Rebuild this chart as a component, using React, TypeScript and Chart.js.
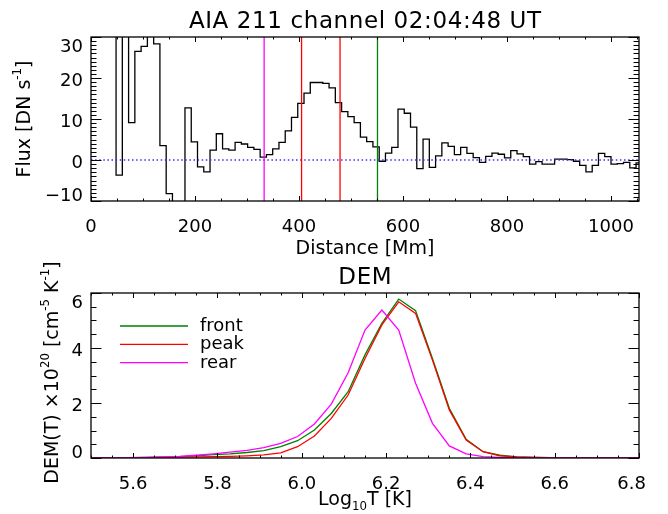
import React, { useEffect, useRef } from 'react';
import { Chart, registerables } from 'chart.js';

Chart.register(...registerables);

const FONT = '"DejaVu Sans", sans-serif';

// ---------------- Top panel data ----------------
const TOP_TITLE = 'AIA 211 channel 02:04:48 UT';
const DIST_MIN = 0;
const DIST_MAX = 1054;
const FLUX_MIN = -10;
const FLUX_MAX = 30;
const BIN_START = 0; // Mm, left edge of first bin
const BIN_WIDTH = 12.05; // Mm
const FLUX = [
  40, 42, 38, 45, -3.7, 35, 9.1, 26.5, 27.7, 33,
  28.3, 3.5, -8.2, -15, -13, 12.7, 4.4, -1.7, -2.9, 2.4,
  6.4, 2.7, 2.4, 4.3, 3.9, 3.1, 2.6, 0.7, 1.3, 2.7,
  4.3, 7.1, 10.4, 13.8, 16.3, 18.9, 18.9, 18.7, 17.6, 14.0,
  11.8, 10.6, 9.1, 5.6, 4.5, 3.2, -0.3, 1.7, 3.1, 12.4,
  11.4, 8.0, -2.1, 5.1, -1.8, 1.0, 4.2, 3.3, 1.3, 3.1,
  1.6, 0.6, -0.6, 0.9, 1.7, 1.4, 0.5, 2.3, 1.5, 0.8,
  -1.0, -0.4, -1.0, -1.0, 0.2, 0.2, 0.1, -0.3, -1.3, -2.9,
  -1.3, 1.6, 0.8, -1.0, -0.9, -0.6, -1.9, -0.7,
];
const MARKERS = [333, 405, 479, 551];
const MARKER_COLORS = ['#ff00ff', '#ff0000', '#ff0000', '#008000'];
const DIST_TICKS = [0, 200, 400, 600, 800, 1000];
const FLUX_TICKS = [-10, 0, 10, 20, 30];

// ---------------- Bottom panel data ----------------
const DEM_TITLE = 'DEM';
const LOGT_MIN = 5.5;
const LOGT_MAX = 6.8;
const DEMY_MIN = 0;
const DEMY_MAX = 6;
const LOGT = [
  5.47, 5.51, 5.55, 5.59, 5.63, 5.67, 5.71, 5.75, 5.79, 5.83,
  5.87, 5.91, 5.95, 5.99, 6.03, 6.07, 6.11, 6.15, 6.19, 6.23,
  6.27, 6.31, 6.35, 6.39, 6.43, 6.47, 6.51, 6.55, 6.59, 6.63,
  6.67, 6.71, 6.75, 6.79, 6.83,
];
const DEM_FRONT = [
  0, 0, 0.005, 0.01, 0.02, 0.03, 0.05, 0.08, 0.12, 0.15,
  0.2, 0.27, 0.41, 0.63, 1.02, 1.62, 2.41, 3.75, 4.9, 5.78,
  5.36, 3.62, 1.81, 0.68, 0.23, 0.1, 0.04, 0.02, 0.01, 0,
  0, 0, 0, 0, 0,
];
const DEM_PEAK = [
  0, 0, 0, 0.005, 0.01, 0.02, 0.03, 0.04, 0.05, 0.06,
  0.08, 0.11, 0.19, 0.41, 0.8, 1.44, 2.29, 3.62, 4.84, 5.68,
  5.26, 3.56, 1.75, 0.65, 0.23, 0.08, 0.04, 0.02, 0.01, 0,
  0, 0, 0, 0, 0,
];
const DEM_REAR = [
  0, 0, 0.005, 0.01, 0.02, 0.04, 0.06, 0.1, 0.15, 0.21,
  0.28, 0.38, 0.53, 0.78, 1.24, 1.96, 3.1, 4.65, 5.38, 4.65,
  2.72, 1.26, 0.44, 0.15, 0.05, 0.02, 0.01, 0, 0, 0,
  0, 0, 0, 0, 0,
];
const DEM_LABELS = ['front', 'peak', 'rear'];
const DEM_COLORS = ['#008000', '#ff0000', '#ff00ff'];
const LOGT_TICKS = [5.6, 5.8, 6.0, 6.2, 6.4, 6.6, 6.8];
const DEM_TICKS = [0, 2, 4, 6];

// ---------------- helpers ----------------
type Seg = { t: string; s?: 'sup' | 'sub' };

function drawRich(
  ctx: CanvasRenderingContext2D,
  segs: Seg[],
  x: number,
  y: number,
  size: number,
  rot = 0,
  spacing = 0
) {
  ctx.save();
  ctx.translate(x, y);
  ctx.rotate(rot);
  (ctx as any).letterSpacing = `${spacing}px`;
  const small = size * 0.62;
  const fN = `${size}px ${FONT}`;
  const fS = `${small}px ${FONT}`;
  let total = 0;
  const widths = segs.map((sg) => {
    ctx.font = sg.s ? fS : fN;
    const w = ctx.measureText(sg.t).width;
    total += w;
    return w;
  });
  total -= spacing;
  let cx = -total / 2;
  ctx.textAlign = 'left';
  ctx.textBaseline = 'alphabetic';
  ctx.fillStyle = '#000';
  segs.forEach((sg, i) => {
    ctx.font = sg.s ? fS : fN;
    const dy = sg.s === 'sup' ? -size * 0.45 : sg.s === 'sub' ? size * 0.28 : 0;
    ctx.fillText(sg.t, cx, dy + size * 0.36);
    cx += widths[i];
  });
  ctx.restore();
}

interface DecorCfg {
  id: string;
  title: Seg[];
  titleY: number;
  titleSize: number;
  titleSpacing: number;
  xTitle: Seg[];
  xTitleDy: number;
  yTitle: Seg[];
  yTitleX: number;
  yTitleDy: number;
  xMinor: number;
  yMinor: number;
  fmtX: (v: number) => string;
  fmtY: (v: number) => string;
  legend?: { labels: string[]; colors: string[] };
}

const TICK_FONT = 18;
const AXT_FONT = 19;

function decorPlugin(cfg: DecorCfg) {
  return {
    id: cfg.id,
    afterDraw(chart: any) {
      const ctx: CanvasRenderingContext2D = chart.ctx;
      const a = chart.chartArea;
      const xs = chart.scales.x;
      const ys = chart.scales.y;
      ctx.save();
      ctx.strokeStyle = '#000';
      ctx.lineWidth = 1.3;
      ctx.strokeRect(a.left, a.top, a.right - a.left, a.bottom - a.top);

      const xMaj = xs.ticks.map((t: any) => t.value);
      const yMaj = ys.ticks.map((t: any) => t.value);
      const isMaj = (arr: number[], v: number, step: number) => arr.some((m) => Math.abs(m - v) < step * 1e-3);

      ctx.lineWidth = 1;
      ctx.beginPath();
      // x ticks (inward on bottom and top)
      const xk0 = Math.ceil(xs.min / cfg.xMinor - 1e-9);
      const xk1 = Math.floor(xs.max / cfg.xMinor + 1e-9);
      for (let k = xk0; k <= xk1; k++) {
        const v = k * cfg.xMinor;
        const p = Math.round(xs.getPixelForValue(v)) + 0.5;
        const len = isMaj(xMaj, v, cfg.xMinor) ? 5 : 2.5;
        ctx.moveTo(p, a.bottom);
        ctx.lineTo(p, a.bottom - len);
        ctx.moveTo(p, a.top);
        ctx.lineTo(p, a.top + len);
      }
      // y ticks (inward on left and right)
      const yk0 = Math.ceil(ys.min / cfg.yMinor - 1e-9);
      const yk1 = Math.floor(ys.max / cfg.yMinor + 1e-9);
      for (let k = yk0; k <= yk1; k++) {
        const v = k * cfg.yMinor;
        const p = Math.round(ys.getPixelForValue(v)) + 0.5;
        const len = isMaj(yMaj, v, cfg.yMinor) ? 10.5 : 5.5;
        ctx.moveTo(a.left, p);
        ctx.lineTo(a.left + len, p);
        ctx.moveTo(a.right, p);
        ctx.lineTo(a.right - len, p);
      }
      ctx.stroke();

      // tick labels
      ctx.fillStyle = '#000';
      ctx.font = `${TICK_FONT}px ${FONT}`;
      ctx.textBaseline = 'alphabetic';
      ctx.textAlign = 'center';
      xMaj.forEach((v: number) => {
        const txt = cfg.fmtX(v);
        const w = ctx.measureText(txt).width;
        let cx = xs.getPixelForValue(v);
        cx = Math.min(cx, a.right + 7 - w / 2);
        ctx.fillText(txt, cx, a.bottom + 25 + TICK_FONT * 0.36);
      });
      ctx.textAlign = 'right';
      yMaj.forEach((v: number) => {
        const txt = cfg.fmtY(v);
        let cy = ys.getPixelForValue(v) + 1.5;
        cy = Math.max(a.top + 9, Math.min(a.bottom - 6, cy));
        ctx.fillText(txt, a.left - 8, cy + TICK_FONT * 0.36);
      });

      // titles
      const cxMid = (a.left + a.right) / 2;
      drawRich(ctx, cfg.title, cxMid, cfg.titleY, cfg.titleSize, 0, cfg.titleSpacing);
      drawRich(ctx, cfg.xTitle, cxMid, a.bottom + cfg.xTitleDy, AXT_FONT);
      drawRich(ctx, cfg.yTitle, cfg.yTitleX, (a.top + a.bottom) / 2 + cfg.yTitleDy, AXT_FONT, -Math.PI / 2);

      // legend
      if (cfg.legend) {
        const lg = cfg.legend;
        ctx.font = `18px ${FONT}`;
        ctx.textAlign = 'left';
        lg.labels.forEach((lab, i) => {
          const y = a.top + 33 + i * 18.3;
          ctx.strokeStyle = lg.colors[i];
          ctx.lineWidth = 1.3;
          ctx.beginPath();
          ctx.moveTo(a.left + 29, y);
          ctx.lineTo(a.left + 97, y);
          ctx.stroke();
          ctx.fillStyle = '#000';
          ctx.fillText(lab, a.left + 109, y + 18 * 0.28);
        });
      }
      ctx.restore();
    },
  };
}

function axis(min: number, max: number, ticks: number[], key: 'width' | 'height', size: number) {
  return {
    type: 'linear' as const,
    min,
    max,
    grid: { display: false, drawTicks: false },
    border: { display: false },
    ticks: { display: false },
    afterBuildTicks: (s: any) => {
      s.ticks = ticks.map((v) => ({ value: v }));
    },
    afterFit: (s: any) => {
      s[key] = size;
    },
  };
}

function baseOptions(padTop: number, xs: any, ys: any) {
  return {
    animation: false as const,
    responsive: false,
    devicePixelRatio: 1,
    events: [] as any[],
    layout: { padding: { left: 0, right: 29, top: padTop, bottom: 0 }, autoPadding: false },
    plugins: { legend: { display: false }, tooltip: { enabled: false }, title: { display: false } },
    elements: { point: { radius: 0 }, line: { tension: 0 } },
    scales: { x: xs, y: ys },
  };
}

function topConfig(): any {
  const hist = FLUX.map((v, i) => ({ x: BIN_START + i * BIN_WIDTH, y: v }));
  hist.push({ x: BIN_START + FLUX.length * BIN_WIDTH, y: FLUX[FLUX.length - 1] });
  const markerSets = MARKERS.map((m, i) => ({
    data: [
      { x: m, y: FLUX_MIN },
      { x: m, y: FLUX_MAX },
    ],
    borderColor: MARKER_COLORS[i],
    borderWidth: 1.3,
    order: 1,
  }));
  return {
    type: 'line',
    data: {
      datasets: [
        ...markerSets,
        {
          data: [
            { x: DIST_MIN, y: 0 },
            { x: DIST_MAX, y: 0 },
          ],
          borderColor: 'rgb(50,50,255)',
          borderWidth: 1.3,
          borderDash: [1.5, 2.6],
          order: 2,
        },
        { data: hist, borderColor: '#000', borderWidth: 1.3, stepped: true, order: 3 },
      ],
    },
    options: baseOptions(
      37,
      axis(DIST_MIN, DIST_MAX, DIST_TICKS, 'height', 56),
      axis(FLUX_MIN, FLUX_MAX, FLUX_TICKS, 'width', 91)
    ),
    plugins: [
      decorPlugin({
        id: 'decorTop',
        title: [{ t: TOP_TITLE }],
        titleY: 20,
        titleSize: 23,
        titleSpacing: 0.6,
        xTitle: [{ t: 'Distance [Mm]' }],
        xTitleDy: 46,
        yTitle: [{ t: 'Flux [DN s' }, { t: '-1', s: 'sup' }, { t: ']' }],
        yTitleX: 23,
        yTitleDy: 0,
        xMinor: 50,
        yMinor: 1,
        fmtX: (v) => String(v),
        fmtY: (v) => (v < 0 ? '\u2212' + Math.abs(v) : String(v)),
      }),
    ],
  };
}

function botConfig(): any {
  const series = [DEM_FRONT, DEM_PEAK, DEM_REAR];
  return {
    type: 'line',
    data: {
      datasets: series.map((s, i) => ({
        label: DEM_LABELS[i],
        data: s.map((v, j) => ({ x: LOGT[j], y: v })),
        borderColor: DEM_COLORS[i],
        borderWidth: 1.3,
        order: 3 - i,
      })),
    },
    options: baseOptions(
      36,
      axis(LOGT_MIN, LOGT_MAX, LOGT_TICKS, 'height', 56),
      axis(DEMY_MIN, DEMY_MAX, DEM_TICKS, 'width', 91)
    ),
    plugins: [
      decorPlugin({
        id: 'decorBot',
        title: [{ t: DEM_TITLE }],
        titleY: 19,
        titleSize: 23,
        titleSpacing: 0.6,
        xTitle: [{ t: 'Log' }, { t: '10', s: 'sub' }, { t: 'T [K]' }],
        xTitleDy: 40,
        yTitle: [
          { t: 'DEM(T) \u00d710' },
          { t: '20', s: 'sup' },
          { t: ' [cm' },
          { t: '-5', s: 'sup' },
          { t: ' K' },
          { t: '-1', s: 'sup' },
          { t: ']' },
        ],
        yTitleX: 51,
        yTitleDy: -3,
        xMinor: 0.05,
        yMinor: 0.5,
        fmtX: (v) => v.toFixed(1),
        fmtY: (v) => String(v),
        legend: { labels: DEM_LABELS, colors: DEM_COLORS },
      }),
    ],
  };
}

export default function App() {
  const topRef = useRef<HTMLCanvasElement>(null);
  const botRef = useRef<HTMLCanvasElement>(null);
  useEffect(() => {
    const c1 = new Chart(topRef.current as HTMLCanvasElement, topConfig());
    const c2 = new Chart(botRef.current as HTMLCanvasElement, botConfig());
    return () => {
      c1.destroy();
      c2.destroy();
    };
  }, []);
  return (
    <div style={{ position: 'fixed', left: 0, top: 0, width: 668, height: 514, background: '#fff' }}>
      <canvas ref={topRef} width={668} height={257} style={{ position: 'absolute', left: 0, top: 0 }} />
      <canvas ref={botRef} width={668} height={257} style={{ position: 'absolute', left: 0, top: 257 }} />
    </div>
  );
}
